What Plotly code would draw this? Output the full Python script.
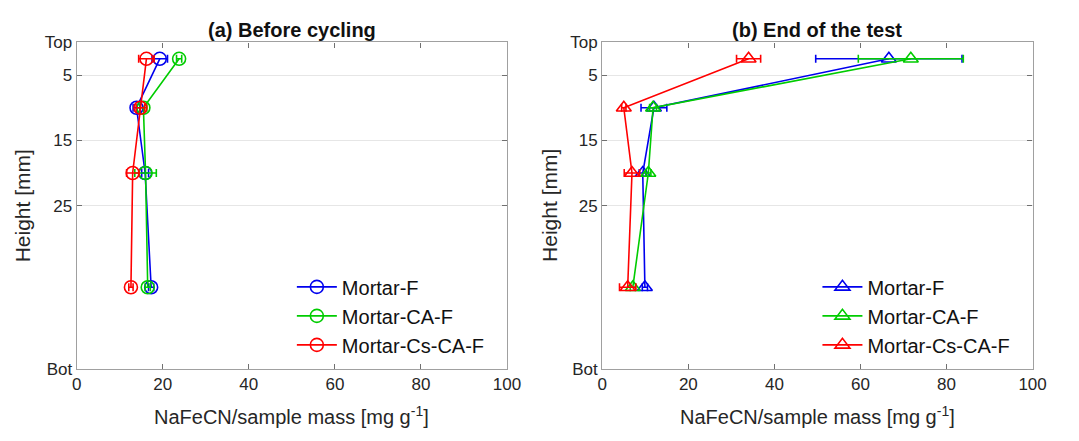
import plotly.graph_objects as go

heights = [2.5, 10, 20, 37.5]
series_names = ["Mortar-F", "Mortar-CA-F", "Mortar-Cs-CA-F"]
colors = ["#0000ee", "#00cc00", "#ff0000"]

# (a) Before cycling
a_F = [19.3, 13.9, 15.9, 17.3]
a_F_err = [1.8, 0.8, 0.8, 0.6]
a_CA = [23.8, 15.5, 16.0, 16.5]
a_CA_err = [0.6, 0.8, 2.5, 0.6]
a_Cs = [16.2, 14.8, 13.0, 12.6]
a_Cs_err = [1.8, 1.0, 1.4, 0.5]

# (b) End of the test
b_F = [66.6, 12.0, 9.4, 9.9]
b_F_err = [17.0, 3.0, 0.8, 0.6]
b_CA = [71.7, 11.8, 10.7, 7.1]
b_CA_err = [12.2, 0.8, 0.6, 0.6]
b_Cs = [34.0, 5.0, 6.9, 5.9]
b_Cs_err = [2.8, 0.5, 1.8, 1.9]

y_tickvals = [0, 5, 15, 25, 50]
y_ticktext = ["Top", "5", "15", "25", "Bot"]
x_tickvals = [0, 20, 40, 60, 80, 100]

W, H = 1079, 441
def px(x):
    return x / W
def py(y):
    return (H - y) / H

fig = go.Figure()

font_fam = "Liberation Sans, Arial, sans-serif"
txt = "#262626"

panels = [
    ("x", "y", "legend", [a_F, a_CA, a_Cs], [a_F_err, a_CA_err, a_Cs_err], "circle-open"),
    ("x2", "y2", "legend2", [b_F, b_CA, b_Cs], [b_F_err, b_CA_err, b_Cs_err], "triangle-up-open"),
]
for xa, ya, lg, vals, errs, sym in panels:
    for name, c, v, e in zip(series_names, colors, vals, errs):
        fig.add_trace(go.Scatter(
            x=v, y=heights, name=name, xaxis=xa, yaxis=ya, legend=lg,
            mode="lines+markers",
            line=dict(color=c, width=1.6),
            marker=dict(symbol=sym, size=13, color=c, line=dict(width=1.6, color=c)),
            error_x=dict(type="data", array=e, visible=True, color=c, thickness=1.6, width=4),
        ))

axis_common = dict(
    showline=True, linecolor="#a0a0a0", linewidth=1.2, mirror="ticks",
    ticks="inside", ticklen=5, tickcolor="#707070", zeroline=False,
    tickfont=dict(size=17, color=txt, family=font_fam),
)
xd = [[px(73), px(511)], [px(608), px(1046)]]
yd = [py(376), py(35)]

for i, (xk, yk) in enumerate([("xaxis", "yaxis"), ("xaxis2", "yaxis2")]):
    xref = "y" if i == 0 else "y2"
    yref = "x" if i == 0 else "x2"
    fig.layout[xk] = dict(
        axis_common, domain=xd[i], range=[0, 100], tickvals=x_tickvals,
        showgrid=False, anchor=xref,
    )
    fig.layout[yk] = dict(
        axis_common, domain=yd, range=[50, 0], tickvals=y_tickvals, ticktext=y_ticktext,
        showgrid=True, gridcolor="#e6e6e6", gridwidth=1, anchor=yref,
    )

titles = ["<b>(a) Before cycling</b>", "<b>(b) End of the test</b>"]
ytitle_x = [18, 554]
for i, t in enumerate(titles):
    xc = (xd[i][0] + xd[i][1]) / 2
    fig.add_annotation(text=t, xref="paper", yref="paper",
                       x=xc, y=py(22), yanchor="middle", xanchor="center",
                       showarrow=False,
                       font=dict(size=20, color="#111111", family=font_fam))
    fig.add_annotation(text="NaFeCN/sample mass [mg g<sup>-1</sup>]", xref="paper", yref="paper",
                       x=xc, y=py(425), yanchor="middle", xanchor="center",
                       showarrow=False,
                       font=dict(size=20, color=txt, family=font_fam))
    fig.add_annotation(text="Height [mm]", xref="paper", yref="paper",
                       x=px(ytitle_x[i]), y=(yd[0] + yd[1]) / 2, textangle=-90,
                       yanchor="middle", xanchor="center", showarrow=False,
                       font=dict(size=21, color=txt, family=font_fam))

leg_common = dict(bgcolor="rgba(0,0,0,0)", borderwidth=0,
                  font=dict(size=20, color="#111111", family=font_fam),
                  xanchor="left", yanchor="top", tracegroupgap=0, itemwidth=40)
fig.update_layout(
    legend=dict(leg_common, x=px(292), y=py(270)),
    legend2=dict(leg_common, x=px(827), y=py(270)),
    width=W, height=H,
    margin=dict(l=0, r=0, t=0, b=0),
    paper_bgcolor="white", plot_bgcolor="white",
    showlegend=True,
)

fig.write_html("out.html")
